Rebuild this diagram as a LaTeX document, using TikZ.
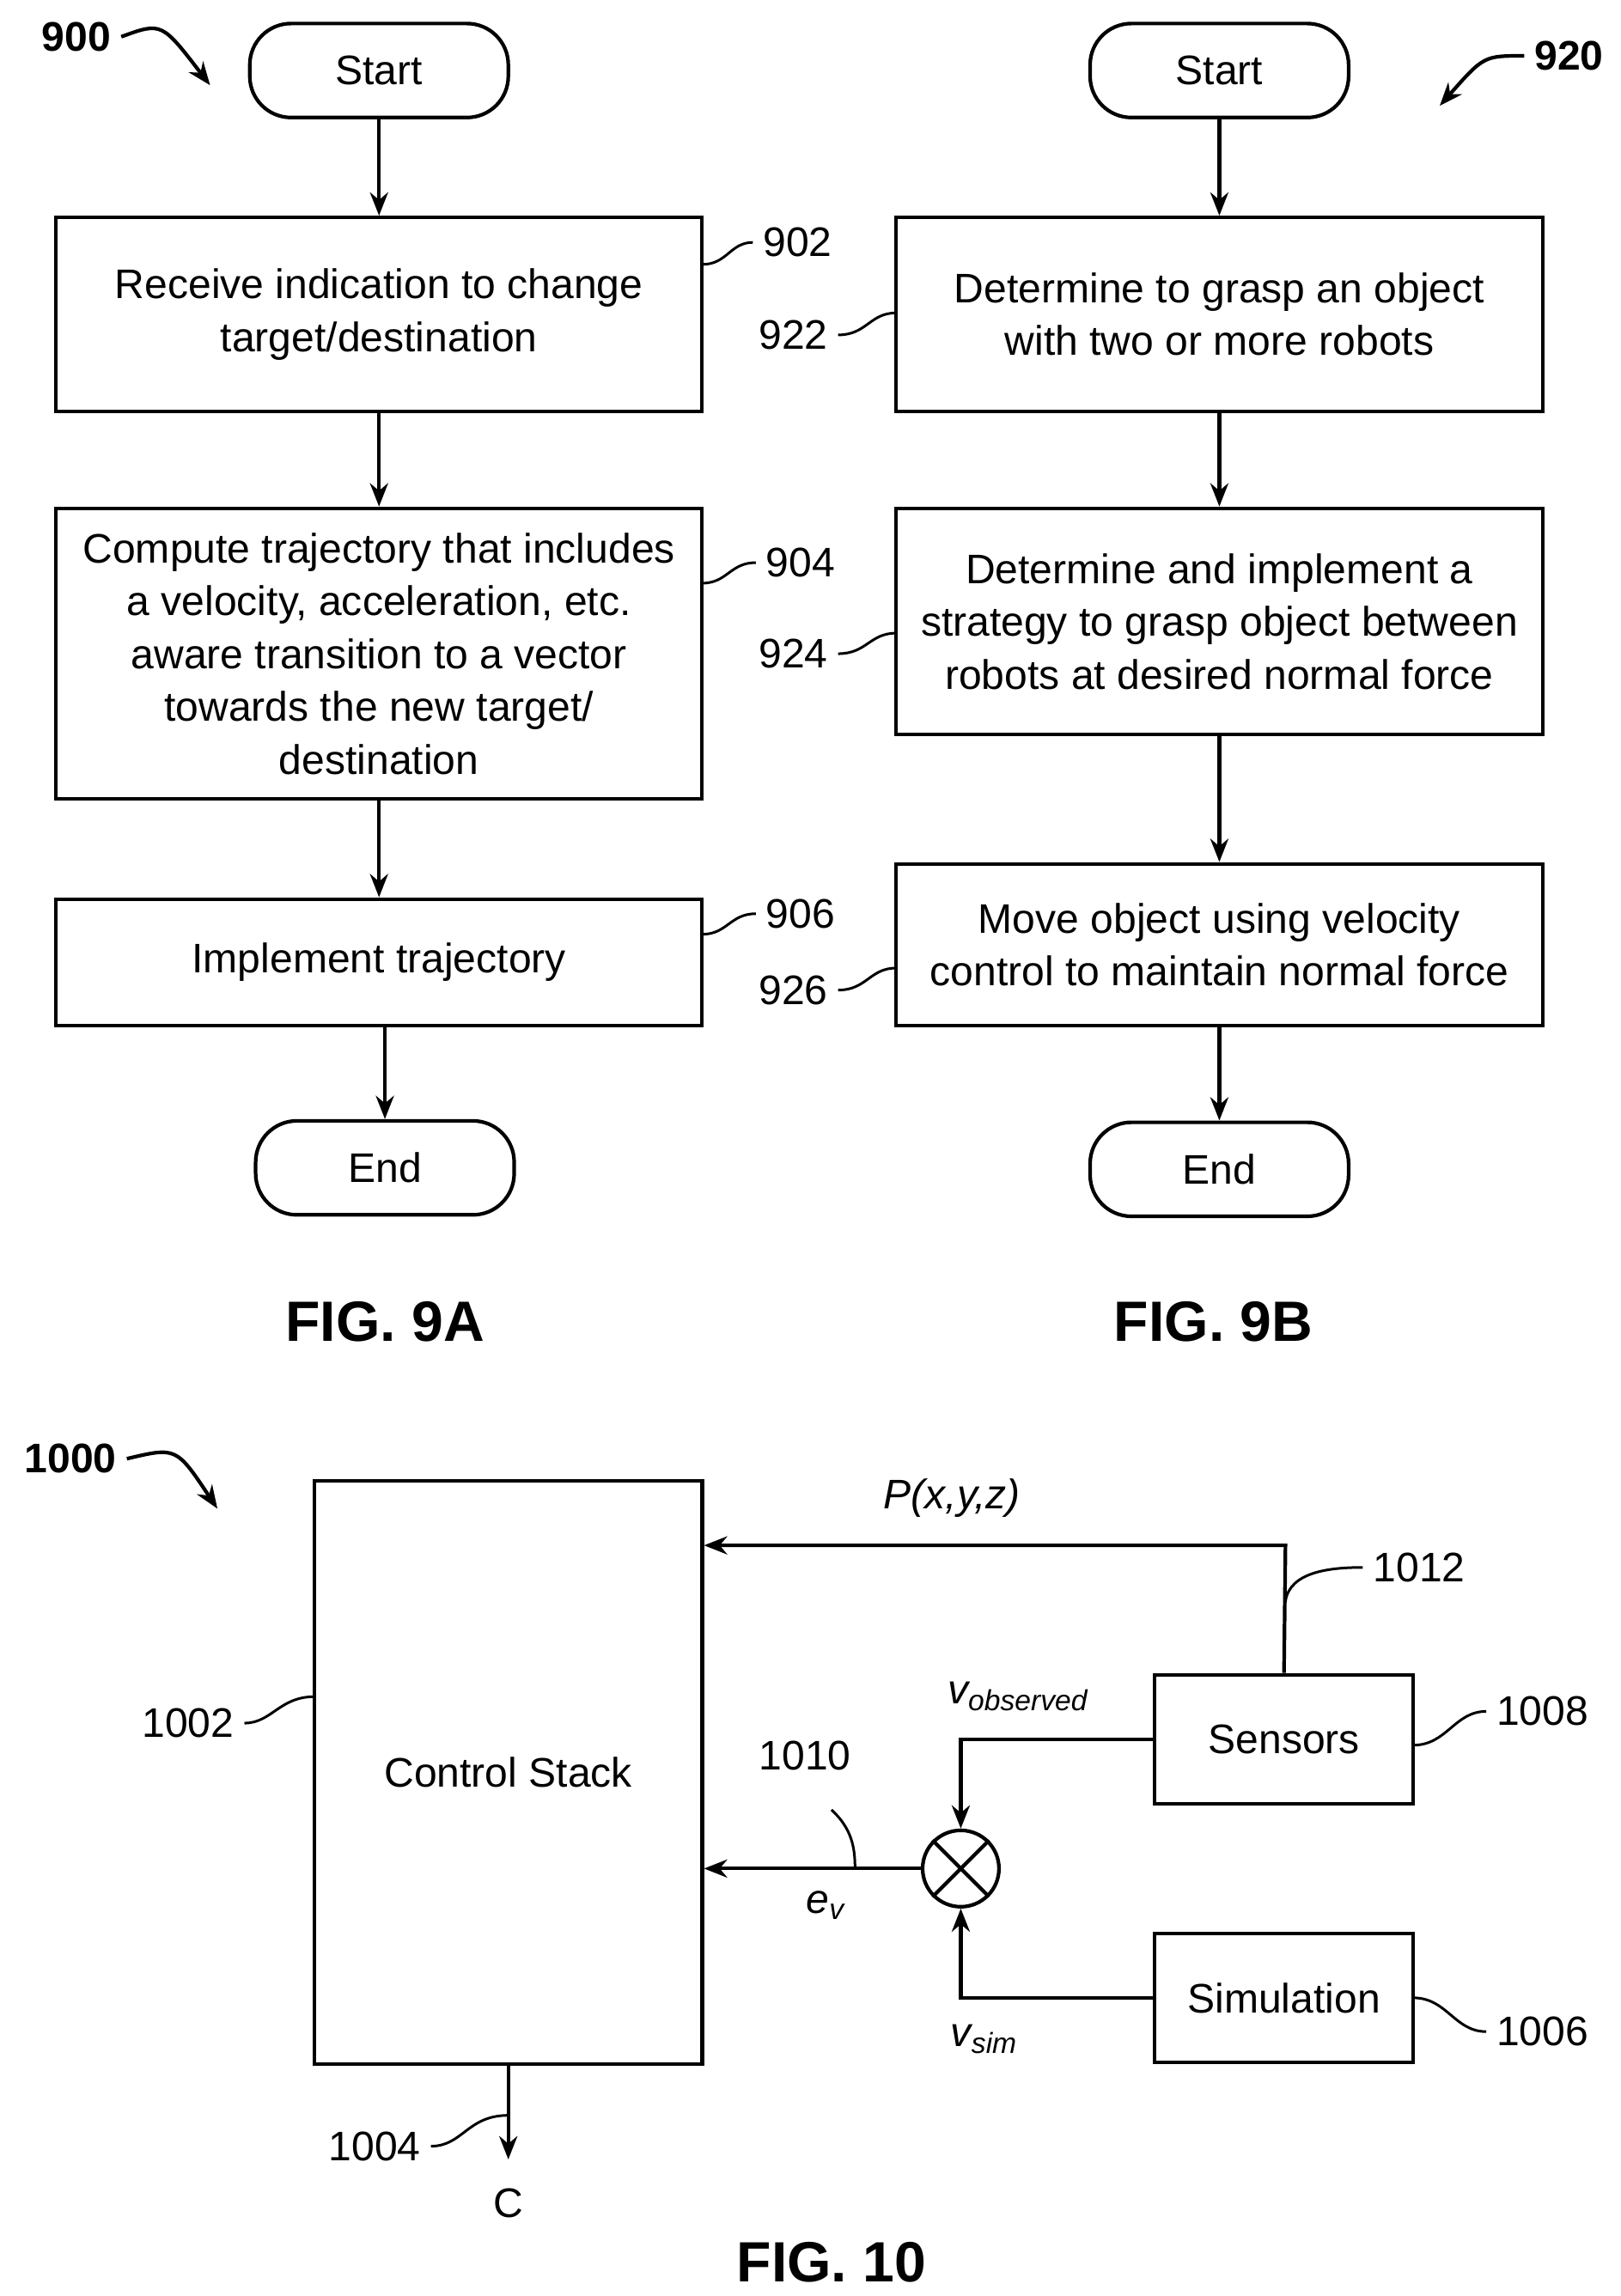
\documentclass[tikz,border=0pt]{standalone}
\usepackage{fontspec}
\setmainfont{Liberation Sans}
\usetikzlibrary{arrows.meta}
\begin{document}
\begin{tikzpicture}[x=0.02cm,y=-0.02cm,line width=1.4pt,
  box/.style={draw,align=center,inner sep=0pt,font=\fontsize{16}{20.5}\selectfont},
  term/.style={draw,rounded corners=16pt,minimum width=3.52cm,minimum height=1.28cm,font=\fontsize{16}{20}\selectfont},
  arr/.style={-{Stealth[length=9pt,width=7pt]}},
  lbl/.style={font=\fontsize{16}{20}\selectfont},
  big/.style={font=\bfseries\fontsize{16}{20}\selectfont},
  fig/.style={font=\bfseries\fontsize{22}{26}\selectfont}]
\useasboundingbox (0,0) rectangle (1103,1563);
% FIG 9A
\node[big] (n900) at (52,25) {900};
\coordinate (a900) at (143,58);
\draw[arr] (n900.east) .. controls (110,15) .. (a900);
\node[term] (sa) at (258,48) {Start};
\node[box,minimum width=8.8cm,minimum height=2.64cm] (b902) at (258,214) {Receive indication to change\\target/destination};
\node[box,minimum width=8.8cm,minimum height=3.96cm] (b904) at (258,445) {Compute trajectory that includes\\a velocity, acceleration, etc.\\aware transition to a vector\\towards the new target/\\destination};
\node[box,minimum width=8.8cm,minimum height=1.72cm] (b906) at (258,655) {Implement trajectory};
\node[term] (ea) at (262,795) {End};
\draw[arr] (sa) -- (b902);
\draw[arr] (b902) -- (b904);
\draw[arr] (b904) -- (b906);
\draw[arr] (b906.south -| ea) -- (ea);
\node[fig] (f9a) at (262,900) {FIG. 9A};
\node[lbl] (l902) at (543,165) {902};
\node[lbl] (l904) at (545,383) {904};
\node[lbl] (l906) at (545,622) {906};
\draw[line width=1pt] (478,180) .. controls (495,180) and (497,165) .. (l902.west);
\draw[line width=1pt] (478,397) .. controls (495,397) and (497,383) .. (l904.west);
\draw[line width=1pt] (478,636) .. controls (495,636) and (497,622) .. (l906.west);
% FIG 9B
\node[term] (sb) at (830,48) {Start};
\node[big] (n920) at (1068,38) {920};
\coordinate (a920) at (980,72);
\draw[arr] (n920.west) .. controls (1010,38) .. (a920);
\node[box,minimum width=8.8cm,minimum height=2.64cm] (b922) at (830,214) {Determine to grasp an object\\with two or more robots};
\node[box,minimum width=8.8cm,minimum height=3.08cm] (b924) at (830,423) {Determine and implement a\\strategy to grasp object between\\robots at desired normal force};
\node[box,minimum width=8.8cm,minimum height=2.2cm] (b926) at (830,643) {Move object using velocity\\control to maintain normal force};
\node[term] (eb) at (830,796) {End};
\draw[arr] (sb) -- (b922);
\draw[arr] (b922) -- (b924);
\draw[arr] (b924) -- (b926);
\draw[arr] (b926) -- (eb);
\node[fig] (f9b) at (826,900) {FIG. 9B};
\node[lbl] (l922) at (540,228) {922};
\node[lbl] (l924) at (540,445) {924};
\node[lbl] (l926) at (540,674) {926};
\draw[line width=1pt] (l922.east) .. controls (590,228) and (592,213) .. (610,213);
\draw[line width=1pt] (l924.east) .. controls (590,445) and (592,431) .. (610,431);
\draw[line width=1pt] (l926.east) .. controls (590,674) and (592,659) .. (610,659);
% FIG 10
\node[big] (n1000) at (48,993) {1000};
\coordinate (a1000) at (148,1027);
\draw[arr] (n1000.east) .. controls (120,985) .. (a1000);
\node[box,minimum width=5.28cm,minimum height=7.94cm] (cs) at (346,1206.5) {Control Stack};
\node[box,minimum width=3.52cm,minimum height=1.76cm] (sen) at (874,1184) {Sensors};
\node[box,minimum width=3.52cm,minimum height=1.76cm] (sim) at (874,1360) {Simulation};
\node[draw,circle,minimum size=1.04cm,inner sep=0pt] (sum) at (654,1272) {};
\draw (sum.north west) -- (sum.south east) (sum.north east) -- (sum.south west);
\draw[arr] (sen.north) -- (875,1052) -- (cs.east |- 0,1052);
\node[lbl,font=\itshape\fontsize{16}{20}\selectfont] (pxyz) at (648,1020) {P(x,y,z)};
\draw[arr] (sen.west) -- (654,1184) -- (sum.north);
\draw[arr] (sim.west) -- (654,1360) -- (sum.south);
\draw[arr] (sum.west) -- (cs.east |- sum);
\node[lbl] (vobs) at (693,1155) {$\mathit{v}_{\mathit{observed}}$};
\node[lbl] (vsim) at (670,1388) {$\mathit{v}_{\mathit{sim}}$};
\node[lbl] (ev) at (562,1297) {$\mathit{e}_{\mathit{v}}$};
\node[lbl] (l1010) at (548,1195) {1010};
\draw[line width=1pt] (566,1232) .. controls (580,1245) and (582,1258) .. (582,1272);
\node[lbl] (l1012) at (966,1067) {1012};
\draw[line width=1pt] (875,1090) .. controls (878,1070) and (905,1067) .. (l1012.west);
\node[lbl] (l1008) at (1050,1165) {1008};
\draw[line width=1pt] (962,1188) .. controls (985,1188) and (990,1165) .. (l1008.west);
\node[lbl] (l1006) at (1050,1383) {1006};
\draw[line width=1pt] (962,1360) .. controls (985,1360) and (990,1383) .. (l1006.west);
\node[lbl] (l1002) at (128,1173) {1002};
\draw[line width=1pt] (l1002.east) .. controls (185,1173) and (190,1155) .. (214,1155);
\node[lbl] (C) at (346,1500) {C};
\coordinate (cend) at (346,1470);
\draw[arr] (cs.south) -- (cend);
\node[lbl] (l1004) at (255,1461) {1004};
\draw[line width=1pt] (l1004.east) .. controls (315,1461) and (318,1440) .. (346,1440);
\node[fig] (f10) at (566,1540) {FIG. 10};
\end{tikzpicture}
\end{document}
